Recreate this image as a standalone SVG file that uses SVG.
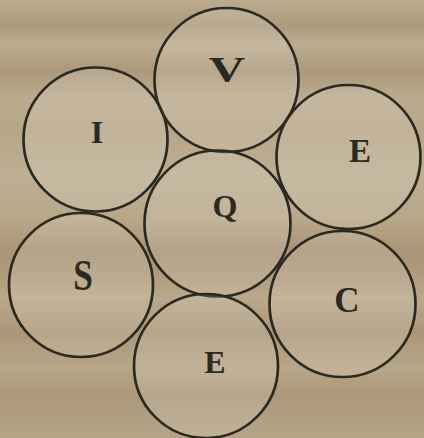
<svg xmlns="http://www.w3.org/2000/svg" width="424" height="438" viewBox="0 0 424 438">
<style>
.c{fill:#ffffff;fill-opacity:0.14;stroke:#2b2a22;stroke-width:2.7}
.t{font-family:"Liberation Serif","Times New Roman",serif;font-weight:bold;fill:#2b2a22;text-anchor:middle}
</style>
<defs>
<linearGradient id="bg" x1="0" y1="0" x2="0" y2="1">
<stop offset="0" stop-color="#bbaa8e"/>
<stop offset="0.06" stop-color="#ae9b7d"/>
<stop offset="0.1" stop-color="#bdac90"/>
<stop offset="0.16" stop-color="#ac997b"/>
<stop offset="0.22" stop-color="#bcaa8e"/>
<stop offset="0.3" stop-color="#b8a688"/>
<stop offset="0.4" stop-color="#beae92"/>
<stop offset="0.5" stop-color="#b9a789"/>
<stop offset="0.57" stop-color="#aa9576"/>
<stop offset="0.62" stop-color="#ae9a7b"/>
<stop offset="0.68" stop-color="#baa88a"/>
<stop offset="0.76" stop-color="#ab9778"/>
<stop offset="0.84" stop-color="#b8a688"/>
<stop offset="0.9" stop-color="#ac987a"/>
<stop offset="1" stop-color="#b6a486"/>
</linearGradient>
</defs>
<rect width="424" height="438" fill="url(#bg)"/>
<g id="node-V"><circle class="c" cx="226.5" cy="80" r="72"/><text class="t" transform="translate(227,82) scale(1.4,1)" x="0" y="0" font-size="36">V</text></g>
<g id="node-I"><circle class="c" cx="95.5" cy="139.5" r="72"/><text class="t" x="97" y="143" font-size="32">I</text></g>
<g id="node-E1"><circle class="c" cx="348.5" cy="157" r="72"/><text class="t" x="360" y="162" font-size="33">E</text></g>
<g id="node-Q"><circle class="c" cx="217.5" cy="223.5" r="73"/><text class="t" x="225" y="217" font-size="32">Q</text></g>
<g id="node-S"><circle class="c" cx="81" cy="285" r="72"/><text class="t" transform="translate(83,290) scale(0.8,1)" x="0" y="0" font-size="44">S</text></g>
<g id="node-C"><circle class="c" cx="342.5" cy="304" r="73"/><text class="t" x="347" y="312" font-size="35">C</text></g>
<g id="node-E2"><circle class="c" cx="206" cy="366" r="72"/><text class="t" x="215" y="373" font-size="32">E</text></g>
<g id="connectors"/>
</svg>
